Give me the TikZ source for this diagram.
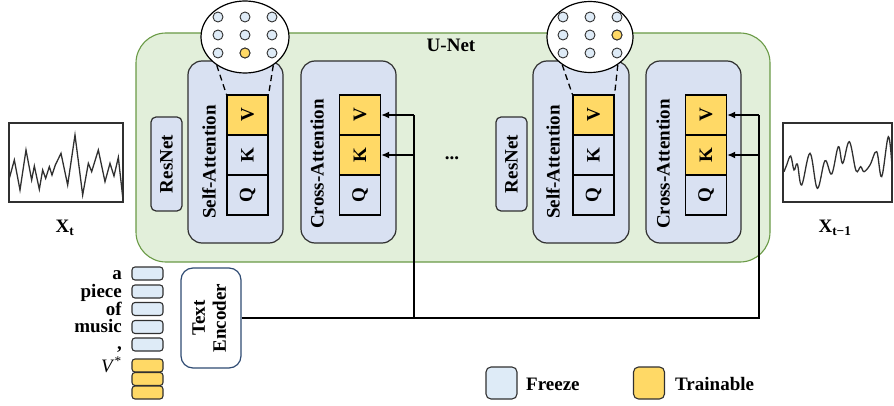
\documentclass[tikz,border=0pt]{standalone}
\usepackage{fontspec}
\setmainfont{Liberation Serif}
\usepackage{graphicx}
\usetikzlibrary{shapes.geometric,arrows.meta}
\definecolor{unetfill}{HTML}{E2EFDA}
\definecolor{unetline}{HTML}{6A9A46}
\definecolor{blockfill}{HTML}{D9E1F2}
\definecolor{tokfill}{HTML}{DEEBF7}
\definecolor{trainfill}{HTML}{FFD966}
\definecolor{encline}{HTML}{2F4B73}
\definecolor{edge}{HTML}{303030}
\begin{document}
\begin{tikzpicture}[x=1pt,y=-1pt,
  font=\fontsize{19}{22}\selectfont\bfseries,
  unet/.style={draw=unetline,fill=unetfill,line width=1.1pt,rounded corners=30pt,inner sep=0pt},
  block/.style={draw=edge,fill=blockfill,line width=1.2pt,rounded corners=14pt,inner sep=0pt},
  resbox/.style={draw=edge,fill=blockfill,line width=1.2pt,rounded corners=5pt,inner sep=0pt,minimum width=31pt,minimum height=94pt},
  cell/.style={draw=black,line width=1.2pt,inner sep=0pt,minimum width=41pt,minimum height=40pt},
  frz/.style={cell,fill=blockfill},
  trn/.style={cell,fill=trainfill},
  bubble/.style={ellipse,draw=black,fill=white,line width=1.2pt,inner sep=0pt},
  dot/.style={circle,draw=edge,fill=tokfill,line width=0.9pt,inner sep=0pt,minimum size=10pt},
  ydot/.style={dot,fill=trainfill},
  zoomline/.style={draw=black,line width=1.3pt,dash pattern=on 6pt off 4pt},
  wave/.style={draw=edge,line width=1.2pt,inner sep=0pt,minimum height=79pt},
  waveline/.style={draw=edge,line width=1.3pt},
  tok/.style={draw=edge,line width=1.1pt,rounded corners=3pt,inner sep=0pt,minimum width=31pt,minimum height=13pt},
  word/.style={anchor=base east,inner sep=0pt},
  conn/.style={draw=black,line width=1.6pt},
  arr/.style={conn,-{Latex[length=8pt,width=7pt]}},
  legbox/.style={draw=edge,line width=1.1pt,rounded corners=5pt,inner sep=0pt,minimum width=31pt,minimum height=32pt}
]
\useasboundingbox (0,0) rectangle (894,406);

% U-Net
\node[unet,minimum width=634pt,minimum height=229pt] (unet) at (453,147.5) {};
\node (unetlbl) at (451,45) {U-Net};

% first group
\node[resbox] (res1) at (166.5,164) {};
\node (res1t) at (res1.center) {\rotatebox{90}{ResNet}};
\node[block,minimum width=95pt,minimum height=182pt] (sa1) at (235.5,152) {};
\node (sa1t) at (209,162) {\rotatebox{90}{Self-Attention}};
\node[trn] (v1) at (247.5,115) {\rotatebox{90}{V}};
\node[frz] (k1) at (247.5,155) {\rotatebox{90}{K}};
\node[frz] (q1) at (247.5,195) {\rotatebox{90}{Q}};
\node[block,minimum width=95pt,minimum height=182pt] (ca1) at (348.5,152) {};
\node (ca1t) at (317,164) {\rotatebox{90}{Cross-Attention}};
\node[trn] (cv1) at (360,115) {\rotatebox{90}{V}};
\node[trn] (ck1) at (360,155) {\rotatebox{90}{K}};
\node[frz] (cq1) at (360,195) {\rotatebox{90}{Q}};

\node (dots) at (452,158) {...};

% second group
\node[resbox] (res2) at (511.5,164) {};
\node (res2t) at (res2.center) {\rotatebox{90}{ResNet}};
\node[block,minimum width=96pt,minimum height=182pt] (sa2) at (581,152) {};
\node (sa2t) at (553,162) {\rotatebox{90}{Self-Attention}};
\node[trn] (v2) at (593.5,115) {\rotatebox{90}{V}};
\node[frz] (k2) at (593.5,155) {\rotatebox{90}{K}};
\node[frz] (q2) at (593.5,195) {\rotatebox{90}{Q}};
\node[block,minimum width=95pt,minimum height=182pt] (ca2) at (693.5,152) {};
\node (ca2t) at (663,164) {\rotatebox{90}{Cross-Attention}};
\node[trn] (cv2) at (706,115) {\rotatebox{90}{V}};
\node[trn] (ck2) at (706,155) {\rotatebox{90}{K}};
\node[frz] (cq2) at (706,195) {\rotatebox{90}{Q}};

% zoom bubbles
\node[bubble,minimum width=88pt,minimum height=72pt] (ell1) at (245,37) {};
\draw[zoomline] (ell1.-135) -- (v1.north west);
\draw[zoomline] (ell1.-45) -- (v1.north east);
\foreach \i/\xx in {1/218,2/245,3/272}{
  \foreach \j/\yy in {1/17,2/35,3/53}{
    \node[dot] (da\i\j) at (\xx,\yy) {};
  }
}
\node[ydot] (da23y) at (245,53) {};

\node[bubble,minimum width=86pt,minimum height=71pt] (ell2) at (590,37) {};
\draw[zoomline] (ell2.-135) -- (v2.north west);
\draw[zoomline] (ell2.-45) -- (v2.north east);
\foreach \i/\xx in {1/563,2/590,3/617}{
  \foreach \j/\yy in {1/17,2/35,3/53}{
    \node[dot] (db\i\j) at (\xx,\yy) {};
  }
}
\node[ydot] (db32y) at (617,35) {};

% waveforms
\node[wave,minimum width=114pt] (xt) at (66,162.5) {};
\begin{scope}[shift={(0,100)},scale=1/3]
\draw[waveline,line join=miter]
 (28,235) -- (43,180) -- (60,270) -- (78,150) -- (95,240) -- (103,198) -- (118,268) -- (128,210) -- (137,235) -- (148,200) -- (156,225) -- (166,195) -- (183,160) -- (203,255) -- (225,105) -- (248,285) -- (265,190) -- (275,215) -- (295,150) -- (315,245) -- (330,190) -- (342,228) -- (355,172) -- (368,290);
\end{scope}
\node (xtl) at (65,228) {X\textsubscript{t}};

\node[wave,minimum width=109pt] (xt1) at (837.5,162.5) {};
\begin{scope}[shift={(770,100)},scale=1/3]
\draw[waveline] plot[smooth,tension=0.6] coordinates {
 (42,215) (50,195) (62,168) (72,210) (82,192) (95,255) (120,160) (142,265) (165,182) (185,222) (205,140) (218,190) (238,125) (258,212) (272,200) (282,215) (300,195) (320,155) (335,230) (355,110) (366,200)};
\end{scope}
\node (xt1l) at (835,228) {X\textsubscript{t−1}};

% tokens
\node[tok,fill=tokfill] (t1) at (147.5,273.5) {};
\node[tok,fill=tokfill] (t2) at (147.5,291.5) {};
\node[tok,fill=tokfill] (t3) at (147.5,309) {};
\node[tok,fill=tokfill] (t4) at (147.5,327) {};
\node[tok,fill=tokfill] (t5) at (147.5,344.5) {};
\node[tok,fill=trainfill] (t6) at (147.5,365.5) {};
\node[tok,fill=trainfill] (t7) at (147.5,379) {};
\node[tok,fill=trainfill] (t8) at (147.5,392.5) {};
\node[word] (w1) at (122,279) {a};
\node[word] (w2) at (122,297) {piece};
\node[word] (w3) at (122,315) {of};
\node[word] (w4) at (122,332) {music};
\node[word] (w5) at (122,349.5) {,};
\node[word,font=\fontsize{19}{22}\selectfont\mdseries] (w6) at (122,372) {\textit{V}\textsuperscript{*}};

% text encoder
\node[draw=encline,fill=white,line width=1.2pt,rounded corners=12pt,minimum width=60pt,minimum height=100pt,inner sep=0pt] (enc) at (211,318) {};
\node (enct) at (enc.center) {\rotatebox{90}{\begin{tabular}{@{}c@{}}Text\\[-1pt]Encoder\end{tabular}}};

% connectors
\coordinate (j1) at (414,318);
\coordinate (j2) at (759,318);
\draw[conn] (enc.east) -- (j2) -- (cv2.east -| j2);
\draw[arr] (cv2.east -| j2) -- (cv2.east);
\draw[arr] (ck2.east -| j2) -- (ck2.east);
\draw[conn] (j1) -- (cv1.east -| j1);
\draw[arr] (cv1.east -| j1) -- (cv1.east);
\draw[arr] (ck1.east -| j1) -- (ck1.east);

% legend
\node[legbox,fill=tokfill] (lf) at (501.5,383) {};
\node[anchor=west,inner sep=0pt] (lft) at (526,384) {Freeze};
\node[legbox,fill=trainfill] (lt) at (649,383) {};
\node[anchor=west,inner sep=0pt] (ltt) at (675,384) {Trainable};
\end{tikzpicture}
\end{document}
